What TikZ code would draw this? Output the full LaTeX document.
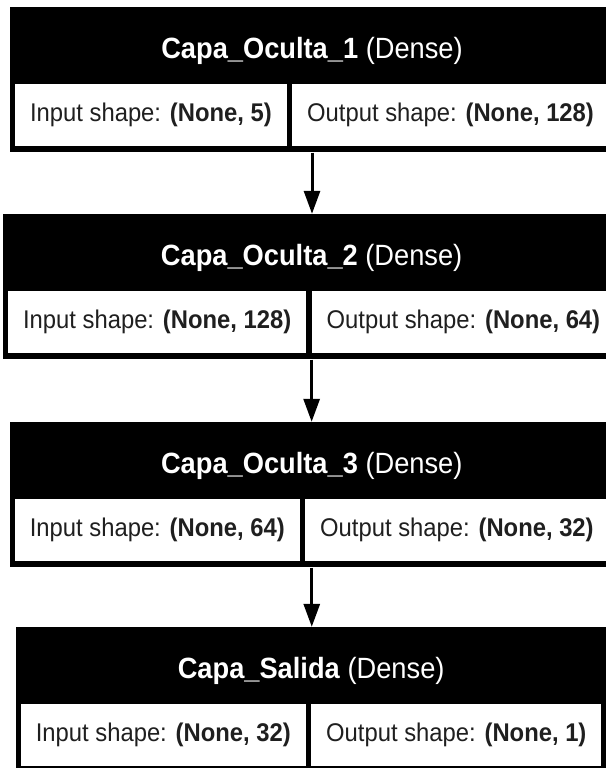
\documentclass[tikz,border=0pt]{standalone}
\usepackage{fontspec}
\setmainfont{Liberation Sans}[FakeStretch=0.93]
\usetikzlibrary{arrows.meta}
\usetikzlibrary{calc}
\usetikzlibrary{fit}
\usetikzlibrary{backgrounds}

\tikzset{
  cell/.style={fill=white, inner xsep=15pt, inner ysep=0pt, minimum height=62pt,
    text=black!88, font=\fontsize{25.6}{30}\selectfont},
  layer/.style={fill=black, inner sep=0pt},
  title/.style={text=white, font=\fontsize{29.3}{34}\selectfont},
  flow/.style={line width=3pt, -{Triangle[length=23pt,width=16pt]}}
}

\begin{document}
\begin{tikzpicture}[x=1pt,y=-1pt]

        % Frame
        \useasboundingbox (0,0) rectangle (605,768);

        % Layers
        \foreach \n/\ty/\dv/\lbl/\inp/\outp in
          {1/7/289.5/Capa\_Oculta\_1/5/128,
           2/214/309/Capa\_Oculta\_2/128/64,
           3/422/302.5/Capa\_Oculta\_3/64/32,
           4/627/308.5/Capa\_Salida/32/1}
        {
          \node[cell, anchor=north east] (in\n) at (\dv-2.5,\ty+77) {Input shape: \textbf{(None, \inp)}};
          \node[cell, anchor=north west] (out\n) at (\dv+2.5,\ty+77) {Output shape: \textbf{(None, \outp)}};
          \coordinate (tl\n) at ($(in\n.north west)+(-5,-77)$);
          \coordinate (br\n) at ($(out\n.south east)+(5,6)$);
          \begin{scope}[on background layer]
            \node[layer, fit=(tl\n)(br\n)] (b\n) {};
          \end{scope}
          \node[title] (hd\n) at ($(b\n.north)+(0,44)$) {\textbf{\lbl} (Dense)};
        }

        % Arrows
        \foreach \p/\q in {1/2,2/3,3/4}
        {
          \draw[flow] (b\p.south) -- (b\p.south |- b\q.north);
        }
    \end{tikzpicture}
\end{document}
